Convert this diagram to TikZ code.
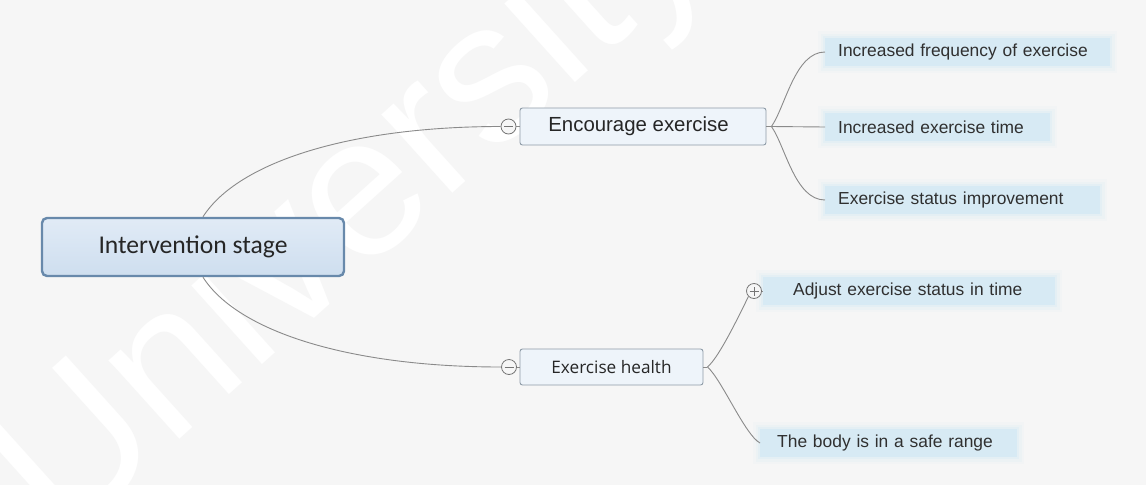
\documentclass[tikz,border=0pt]{standalone}
\usepackage{fontspec}
\setmainfont{Liberation Sans}
\newfontfamily\rootfont{Carlito}
\newfontfamily\healthfont{Open Sans}
\usetikzlibrary{calc}

\definecolor{paper}{HTML}{F6F6F6}
\definecolor{rootfillA}{HTML}{E1EBF6}
\definecolor{rootfillB}{HTML}{CEDEEF}
\definecolor{rootline}{HTML}{6889AB}
\definecolor{subfill}{HTML}{EEF4FA}
\definecolor{subline}{HTML}{8E9BA7}
\definecolor{leafblue}{HTML}{D7EAF4}
\definecolor{wirecol}{HTML}{8A8A8A}
\definecolor{ink}{HTML}{262626}
\definecolor{leafink}{HTML}{303030}

\pgfdeclarelayer{back}
\pgfsetlayers{back,main}

\tikzset{
  rootbox/.style={draw=rootline, line width=2.4pt, rounded corners=5pt,
    top color=rootfillA, bottom color=rootfillB,
    minimum width=302pt, minimum height=58pt, inner sep=0pt,
    font=\rootfont\fontsize{25.6}{30}\selectfont, text=ink},
  subbox/.style={draw=subline, line width=0.9pt, rounded corners=2.5pt,
    fill=subfill, inner sep=0pt, text=ink},
  leaf/.style={fill=leafblue, anchor=west, align=left, inner ysep=0pt,
    minimum height=28pt, text=leafink,
    font=\fontsize{17.4}{20}\selectfont,
    preaction={draw=leafblue, line width=14pt, opacity=0.12},
    preaction={draw=leafblue, line width=9pt, opacity=0.2},
    preaction={draw=leafblue, line width=4pt, opacity=0.35}},
  toggle/.style={circle, draw=wirecol!85!black, line width=0.8pt, fill=paper,
    minimum size=15pt, inner sep=0pt},
  wire/.style={draw=wirecol, line width=0.9pt},
}

\begin{document}
\begin{tikzpicture}[x=1pt,y=-1pt]
\useasboundingbox (0,0) rectangle (1146,485);

% paper and the faint white watermark lettering behind the chart
\begin{pgfonlayer}{back}
  \fill[paper] (0,0) rectangle (1146,485);
  \node[anchor=base west, rotate=42, inner sep=0pt, text=white,
        font=\fontsize{200}{210}\selectfont] (wm) at (62,545) {University};
\end{pgfonlayer}

% central topic
\node[rootbox] (root) at (193,247) {Intervention stage};

% main branches with their collapse toggles
\node[subbox, minimum width=246pt, minimum height=37pt,
      font=\fontsize{20.4}{24}\selectfont] (enc) at (643,126.5) {\hspace*{-9pt}Encourage exercise};
\node[subbox, minimum width=183pt, minimum height=36pt,
      font=\healthfont\fontsize{17.2}{20}\selectfont] (hea) at (611.5,367) {Exercise health};
\node[toggle] (cE) at (508.5,126.5) {};
\node[toggle] (cH) at (509,367) {};

% leaves
\node[leaf, inner xsep=13pt, text width=259pt] (l1) at (825,52) {Increased frequency of exercise};
\node[leaf, inner xsep=13pt, text width=199pt] (l2) at (825,127) {Increased exercise time};
\node[leaf, inner xsep=13pt, text width=249pt] (l3) at (825,200) {Exercise status improvement};
\node[leaf, inner xsep=30pt, text width=232pt] (l4) at (763,291) {Adjust exercise status in time};
\node[leaf, inner xsep=17pt, text width=223pt] (l5) at (760,443) {The body is in a safe range};
\node[toggle] (cA) at (754,291) {};

% toggle glyphs
\draw[wirecol!85!black, line width=0.8pt]
  ([xshift=-4.5pt]cE.center) -- ([xshift=4.5pt]cE.center)
  ([xshift=-4.5pt]cH.center) -- ([xshift=4.5pt]cH.center)
  ([xshift=-4.5pt]cA.center) -- ([xshift=4.5pt]cA.center)
  ([yshift=-4.5pt]cA.center) -- ([yshift=4.5pt]cA.center);

% connectors from the central topic
\draw[wire] ([xshift=10pt]root.north) .. controls +(35,-55) and +(-150,0) .. (cE.west);
\draw[wire] ([xshift=10pt]root.south) .. controls +(35,55) and +(-150,0) .. (cH.west);
\draw[wire] (cE.east) -- (enc.west);
\draw[wire] (cH.east) -- (hea.west);

% connectors of "Encourage exercise"
\coordinate (jE) at ($(enc.east)+(5,0)$);
\draw[wire] (enc.east) -- (jE);
\draw[wire] (jE) .. controls +(14,-20) and +(-30,0) .. (l1.west);
\draw[wire] (jE) -- (l2.west);
\draw[wire] (jE) .. controls +(14,20) and +(-30,0) .. (l3.west);

% connectors of "Exercise health"
\coordinate (jH) at ($(hea.east)+(4,0)$);
\draw[wire] (hea.east) -- (jH);
\draw[wire] (jH) .. controls +(12,-10) and +(-8,16) .. (cA.south west);
\draw[wire] (cA.east) -- (l4.west);
\draw[wire] (jH) .. controls +(14,12) and +(-15,-8) .. (l5.west);
\end{tikzpicture}
\end{document}
